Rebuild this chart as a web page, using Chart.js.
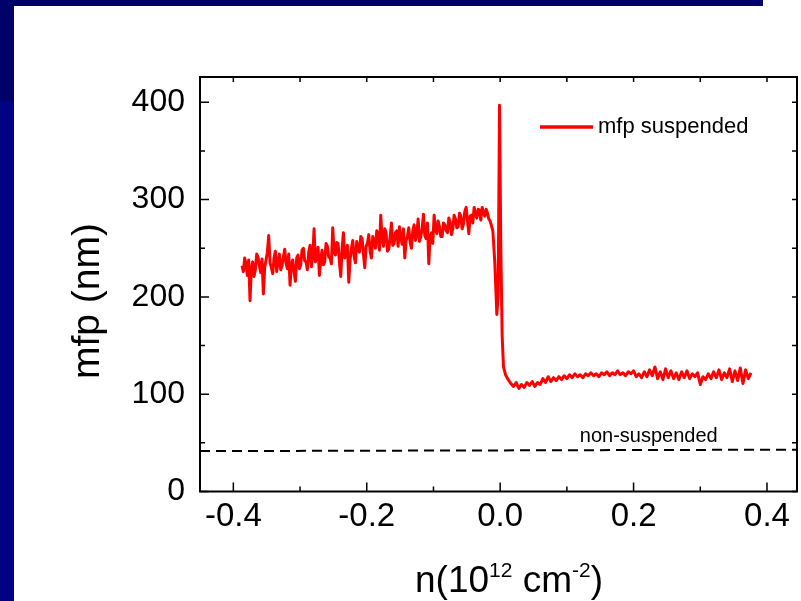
<!DOCTYPE html>
<html>
<head>
<meta charset="utf-8">
<script src="https://cdn.jsdelivr.net/npm/chart.js@4"></script>
<style>
  html, body { margin: 0; padding: 0; background: #fff; }
  #wrap { position: relative; width: 801px; height: 601px; overflow: hidden; background: #fff; }
  #wrap canvas { position: absolute; left: 0; top: 0; }
  .bar-top { position: absolute; left: 0; top: 0; width: 763px; height: 6px; background: #00006b; }
  .bar-left-a { position: absolute; left: 0; top: 0; width: 14px; height: 101px; background: #00006b; }
  .bar-left-b { position: absolute; left: 0; top: 101px; width: 14px; height: 500px; background: #000084; }
</style>
</head>
<body>
<div id="wrap">
  <canvas id="mfpChart" width="801" height="601"></canvas>
  <div class="bar-top"></div>
  <div class="bar-left-a"></div>
  <div class="bar-left-b"></div>
</div>
<script>
// hole side, evenly swept in n
const leftStart = -0.387;
const leftStep = 0.002;
const mfpLeft = [
  232, 226, 240, 234, 222, 238, 196, 229, 236, 221,
  228, 244, 241, 232, 225, 239, 203, 230, 238, 246,
  263, 235, 230, 224, 240, 247, 226, 236, 244, 228,
  232, 241, 249, 235, 229, 244, 212, 233, 238, 226,
  216, 240, 243, 229, 233, 248, 250, 237, 236, 228,
  246, 253, 231, 242, 270, 236, 240, 251, 222, 238,
  248, 233, 236, 255, 252, 241, 240, 234, 271, 247,
  243, 256, 255, 236, 221, 249, 266, 240, 244, 253,
  215, 238, 250, 258, 242, 235, 257, 249, 246, 262,
  260, 244, 230, 252, 255, 264, 247, 240, 262, 256,
  250, 268, 264, 248, 284, 259, 252, 270, 266, 247,
  249, 261, 276, 253, 255, 266, 268, 252, 272, 262,
  254, 270, 240, 258, 262, 271, 256, 250, 268, 274,
  258, 264, 280, 257, 262, 270, 285, 263, 260, 276,
  234, 262, 266, 255, 284, 270, 265, 278, 272, 262,
  262, 276, 274, 268, 266, 281, 277, 264, 270, 284,
  280, 271, 272, 286, 283, 270, 275, 288, 292, 278,
  265, 283, 284, 276, 292, 285, 281, 290, 289, 279,
  292, 287, 283, 290, 286, 280, 278
];

// Dirac point region
const nJump = [-0.011, -0.008, -0.005, -0.003, -0.001, 0.001, 0.003, 0.005];
const mfpJump = [268, 235, 182, 200, 397, 250, 160, 128];

// electron side
const rightStart = 0.008;
const rightStep = 0.004;
const mfpRight = [
  120, 115, 111, 108, 112, 106, 110, 107, 112, 109,
  113, 108, 112, 110, 116, 112, 118, 113, 117, 114,
  118, 115, 119, 116, 120, 117, 121, 118, 120, 117,
  121, 119, 122, 119, 121, 118, 122, 120, 123, 119,
  122, 120, 124, 120, 122, 119, 123, 121, 124, 118,
  121, 117, 123, 118, 125, 119, 128, 116, 123, 115,
  126, 117, 124, 116, 122, 115, 123, 117, 124, 116,
  121, 118, 122, 110, 118, 115, 121, 116, 123, 117,
  125, 115, 122, 117, 126, 113, 124, 114, 127, 111,
  125, 116, 122
];

// non-suspended reference level
const nDash = [-0.45, 0.445];
const mfpDash = [41.5, 43];

const xTicks = [-0.4, -0.2, 0.0, 0.2, 0.4];
const xTickLabels = ['-0.4', '-0.2', '0.0', '0.2', '0.4'];
const xMinor = [-0.3, -0.1, 0.1, 0.3];
const yTicks = [0, 100, 200, 300, 400];
const yMinor = [50, 150, 250, 350];

const FONT = '"Liberation Sans", Arial, sans-serif';

const suspendedPts = [];
mfpLeft.forEach((v, i) => suspendedPts.push({ x: leftStart + i * leftStep, y: v }));
mfpJump.forEach((v, i) => suspendedPts.push({ x: nJump[i], y: v }));
mfpRight.forEach((v, i) => suspendedPts.push({ x: rightStart + i * rightStep, y: v }));
const dashPts = nDash.map((n, i) => ({ x: n, y: mfpDash[i] }));

const framePlugin = {
  id: 'frame',
  afterDraw(chart) {
    const { ctx, chartArea: a, scales: { x, y } } = chart;
    ctx.save();
    ctx.strokeStyle = '#000';
    ctx.lineWidth = 2;
    ctx.strokeRect(a.left, a.top, a.right - a.left, a.bottom - a.top);

    ctx.lineWidth = 1.5;
    ctx.beginPath();
    xTicks.forEach((v) => {
      const px = x.getPixelForValue(v);
      ctx.moveTo(px, a.bottom); ctx.lineTo(px, a.bottom - 9);
      ctx.moveTo(px, a.top); ctx.lineTo(px, a.top + 5);
    });
    xMinor.forEach((v) => {
      const px = x.getPixelForValue(v);
      ctx.moveTo(px, a.bottom); ctx.lineTo(px, a.bottom - 5);
      ctx.moveTo(px, a.top); ctx.lineTo(px, a.top + 5);
    });
    yTicks.forEach((v) => {
      const py = y.getPixelForValue(v);
      ctx.moveTo(a.left, py); ctx.lineTo(a.left + 9, py);
      ctx.moveTo(a.right, py); ctx.lineTo(a.right - 5, py);
    });
    yMinor.forEach((v) => {
      const py = y.getPixelForValue(v);
      ctx.moveTo(a.left, py); ctx.lineTo(a.left + 5, py);
      ctx.moveTo(a.right, py); ctx.lineTo(a.right - 5, py);
    });
    ctx.stroke();

    // legend
    ctx.strokeStyle = '#ff0000';
    ctx.lineWidth = 3.5;
    ctx.beginPath();
    ctx.moveTo(540, 127); ctx.lineTo(593, 127);
    ctx.stroke();
    ctx.fillStyle = '#000';
    ctx.textBaseline = 'middle';
    ctx.textAlign = 'left';
    ctx.font = '22px ' + FONT;
    ctx.fillText('mfp suspended', 598, 127);

    // label for the dashed level
    ctx.font = '20px ' + FONT;
    ctx.textAlign = 'center';
    ctx.fillText('non-suspended', x.getPixelForValue(0.2228), y.getPixelForValue(56.5));

    // y axis title
    ctx.save();
    ctx.translate(88, 301);
    ctx.rotate(-Math.PI / 2);
    ctx.font = '39px ' + FONT;
    ctx.textAlign = 'center';
    ctx.fillText('mfp (nm)', 0, 0);
    ctx.restore();

    // x axis title with superscripts
    ctx.textAlign = 'left';
    ctx.textBaseline = 'alphabetic';
    let cx = 415;
    const base = 592;
    const parts = [
      ['n(10', 37, 0], ['12', 21, 15], [' cm', 37, 0], ['-2', 21, 15], [')', 37, 0]
    ];
    parts.forEach(([t, size, rise]) => {
      ctx.font = size + 'px ' + FONT;
      ctx.fillText(t, cx, base - rise);
      cx += ctx.measureText(t).width;
    });
    ctx.restore();
  }
};

new Chart(document.getElementById('mfpChart').getContext('2d'), {
  type: 'line',
  data: {
    datasets: [
      {
        label: 'mfp suspended',
        data: suspendedPts,
        borderColor: '#ff0000',
        borderWidth: 3,
        pointRadius: 0,
        borderJoinStyle: 'round',
        tension: 0,
      },
      {
        label: 'non-suspended',
        data: dashPts,
        borderColor: '#000',
        borderWidth: 2,
        borderDash: [10, 6],
        pointRadius: 0,
      },
    ],
  },
  options: {
    responsive: false,
    animation: false,
    events: [],
    layout: { padding: { top: 77, right: 4, left: 0, bottom: 0 } },
    plugins: {
      legend: { display: false },
      tooltip: { enabled: false },
    },
    scales: {
      x: {
        type: 'linear',
        min: -0.45,
        max: 0.445,
        grid: { display: false, drawTicks: false },
        border: { display: false },
        afterFit(axis) { axis.height = 109.5; },
        afterBuildTicks(axis) { axis.ticks = xTicks.map((v) => ({ value: v })); },
        ticks: {
          color: '#000',
          padding: 6,
          maxRotation: 0,
          font: { family: FONT, size: 33 },
          callback(value) {
            const i = xTicks.findIndex((t) => Math.abs(t - value) < 1e-9);
            return i >= 0 ? xTickLabels[i] : '';
          },
        },
      },
      y: {
        min: 0,
        max: 426,
        grid: { display: false, drawTicks: false },
        border: { display: false },
        afterFit(axis) { axis.width = 200; },
        afterBuildTicks(axis) { axis.ticks = yTicks.map((v) => ({ value: v })); },
        ticks: {
          color: '#000',
          padding: 15,
          font: { family: FONT, size: 32 },
        },
      },
    },
  },
  plugins: [framePlugin],
});
</script>
</body>
</html>
